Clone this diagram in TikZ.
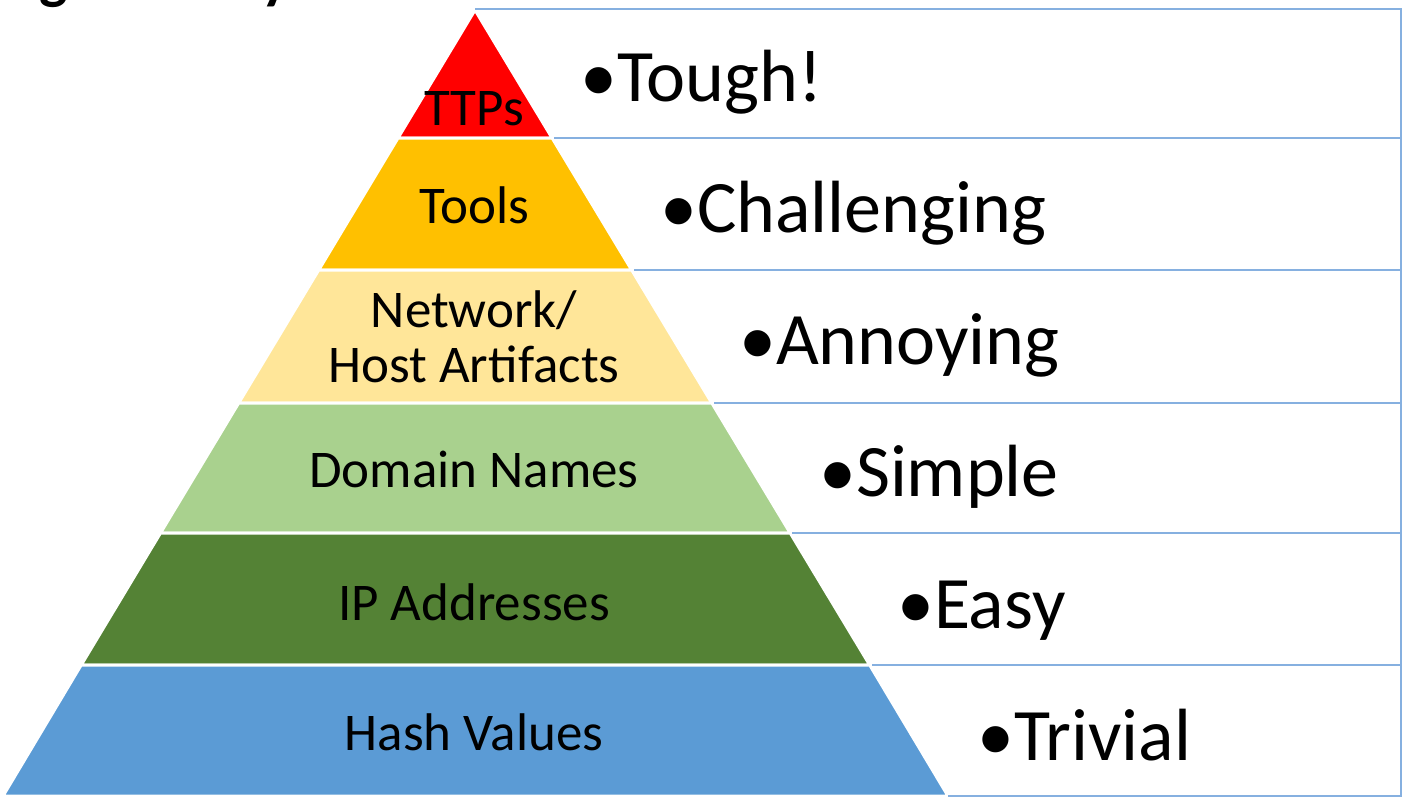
\documentclass[tikz,border=0pt]{standalone}
\usepackage{fontspec}
\setmainfont{Carlito}
\definecolor{ttpred}{HTML}{FF0000}
\definecolor{toolgold}{HTML}{FFC000}
\definecolor{artyellow}{HTML}{FFE699}
\definecolor{domgreen}{HTML}{A9D18E}
\definecolor{ipgreen}{HTML}{548235}
\definecolor{hashblue}{HTML}{5B9BD5}
\definecolor{rulec}{HTML}{86B0E0}
\begin{document}
\begin{tikzpicture}[x=1pt,y=-1pt,
  band/.style={draw=white,line width=3pt,line join=miter},
  lbl/.style={font=\fontsize{53}{55}\selectfont,align=center,inner sep=0pt,anchor=base},
  rlbl/.style={font=\fontsize{74}{80}\selectfont,inner sep=0pt,anchor=base west},
  rulestyle/.style={draw=rulec,line width=2pt}]
\useasboundingbox (0,0) rectangle (1404,804);
% caption, cut off at the top
\node[anchor=base west,inner sep=0pt,font=\bfseries\fontsize{60}{60}\selectfont] (cap) at (-3,-3) {Figure 1: Pyramid of Pain};
% pyramid bands
\path[band,fill=ttpred] (475,10) -- (552.1,138) -- (398,138) -- cycle;
\path[band,fill=toolgold] (398,138) -- (552.1,138) -- (631.7,270) -- (318.7,270) -- cycle;
\path[band,fill=artyellow] (318.7,270) -- (631.7,270) -- (711.8,403) -- (238.7,403) -- cycle;
\path[band,fill=domgreen] (238.7,403) -- (711.8,403) -- (790.2,533) -- (160.5,533) -- cycle;
\path[band,fill=ipgreen] (160.5,533) -- (790.2,533) -- (869.7,665) -- (81.2,665) -- cycle;
\path[band,fill=hashblue] (81.2,665) -- (869.7,665) -- (948,796) -- (3,796) -- cycle;
% table rules on the right
\draw[rulestyle] (475,9) -- (1401,9) -- (1401,796) -- (948,796);
\draw[rulestyle] (554,138) -- (1401,138);
\draw[rulestyle] (634,270) -- (1401,270);
\draw[rulestyle] (714,403) -- (1401,403);
\draw[rulestyle] (792,533) -- (1401,533);
\draw[rulestyle] (872,665) -- (1401,665);
% pyramid labels
\node[lbl] (ttps) at (474,125) {TTPs};
\node[lbl] (tools) at (474,223) {Tools};
\node[lbl] (art) at (474,382) {Network/\\Host Artifacts};
\node[lbl] (dom) at (474,487) {Domain Names};
\node[lbl] (ip) at (474,620) {IP Addresses};
\node[lbl] (hash) at (474,750) {Hash Values};
% difficulty labels
\node[rlbl] (tough) at (580,101) {•Tough!};
\node[rlbl] (chal) at (660,232.8) {•Challenging};
\node[rlbl] (ann) at (739,364.6) {•Annoying};
\node[rlbl] (simp) at (819,496.4) {•Simple};
\node[rlbl] (easy) at (897,628.2) {•Easy};
\node[rlbl] (triv) at (977,760) {•Trivial};
\end{tikzpicture}
\end{document}
